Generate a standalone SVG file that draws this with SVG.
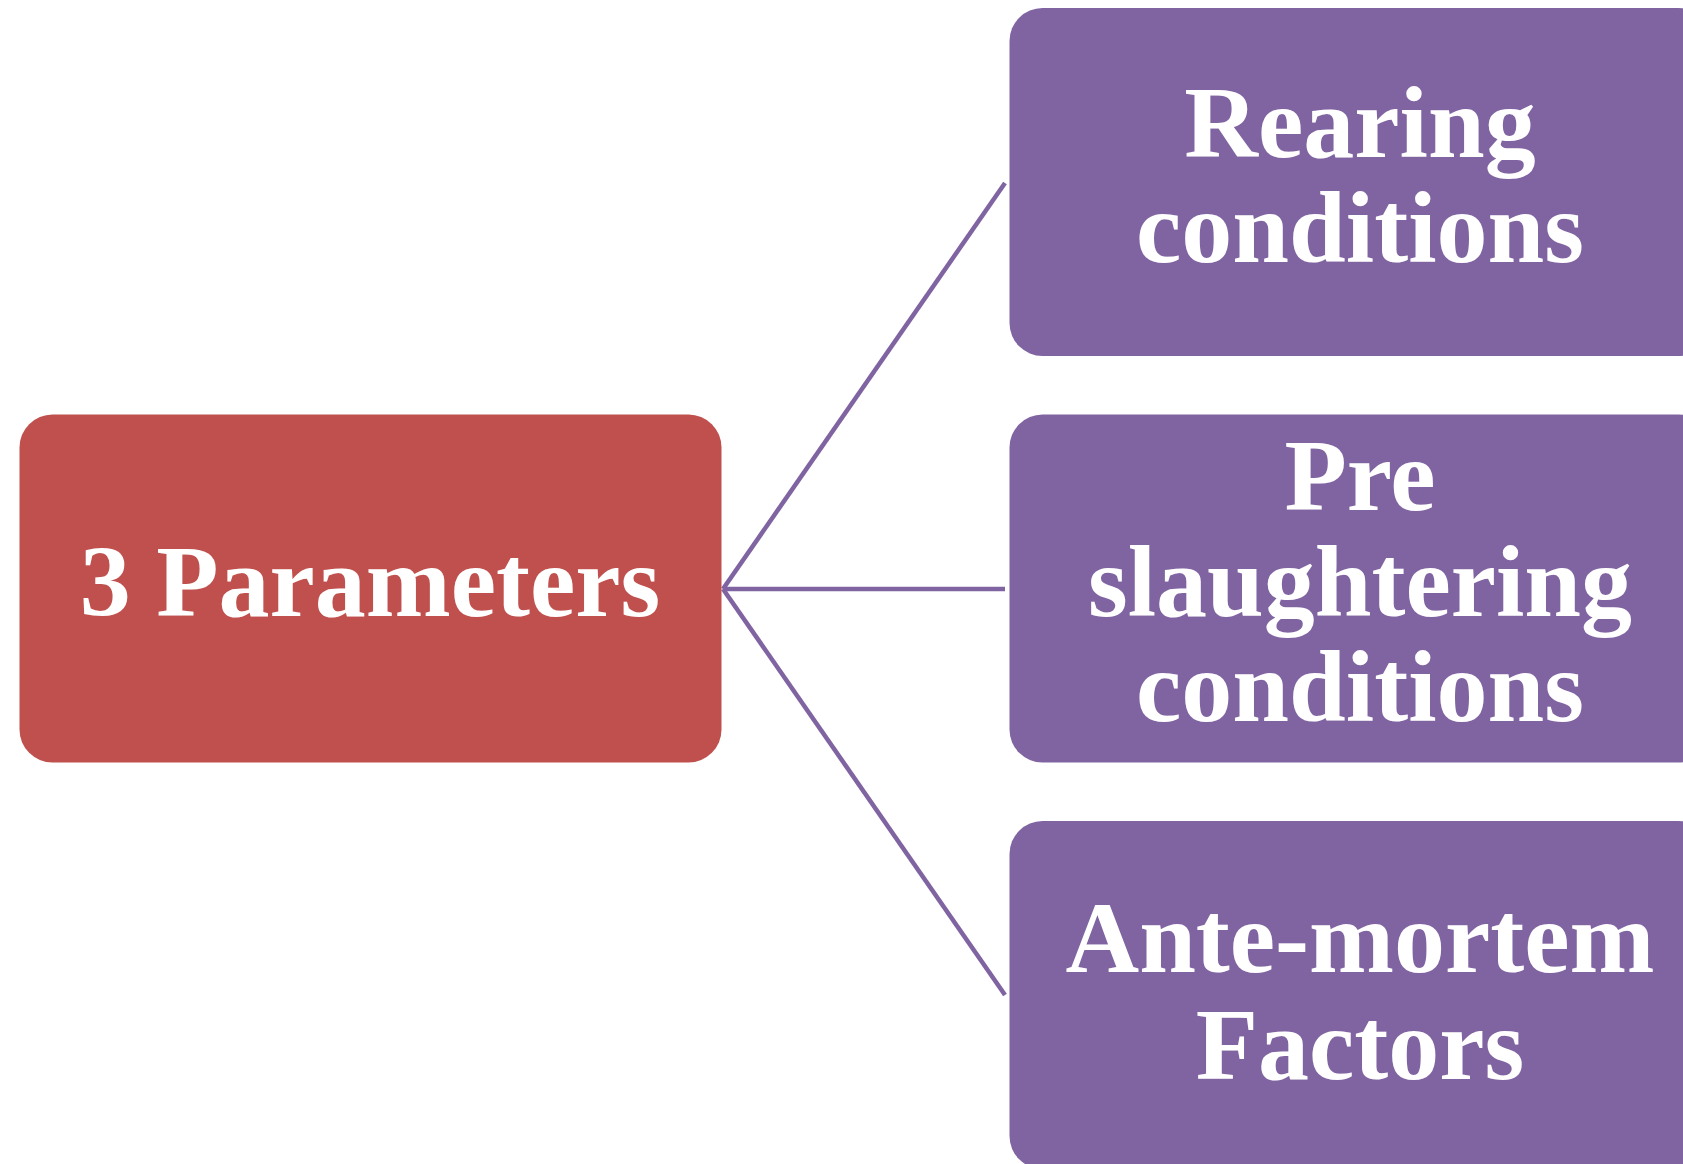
<svg xmlns="http://www.w3.org/2000/svg" width="1683" height="1164" viewBox="0 0 1683 1164">
<style>
.red{fill:#C0504D}
.pur{fill:#8064A2}
.t{font-family:"Liberation Serif","Times New Roman",serif;font-weight:bold;font-size:102px;fill:#FFFFFF;text-anchor:middle}
.c{stroke:#8064A2;stroke-width:4.5;fill:none}
</style>
<rect width="1683" height="1164" fill="#FFFFFF"/>
<g id="connectors">
<line class="c" x1="723" y1="589" x2="1005" y2="183"/>
<line class="c" x1="723" y1="589" x2="1005" y2="589"/>
<line class="c" x1="723" y1="589" x2="1005" y2="995"/>
</g>
<g id="n0">
<rect class="red" x="19.5" y="414.5" width="702" height="348" rx="33"/>
<text class="t" x="370" y="616">3 Parameters</text>
</g>
<g id="n1">
<rect class="pur" x="1009.5" y="8" width="702" height="348" rx="33"/>
<text class="t" x="1360" y="157">Rearing</text>
<text class="t" x="1360" y="262">conditions</text>
</g>
<g id="n2">
<rect class="pur" x="1009.5" y="414.5" width="702" height="348" rx="33"/>
<text class="t" x="1360" y="510">Pre</text>
<text class="t" x="1360" y="616">slaughtering</text>
<text class="t" x="1360" y="721">conditions</text>
</g>
<g id="n3">
<rect class="pur" x="1009.5" y="821" width="702" height="348" rx="33"/>
<text class="t" x="1360" y="972">Ante-mortem</text>
<text class="t" x="1360" y="1079">Factors</text>
</g>
</svg>
